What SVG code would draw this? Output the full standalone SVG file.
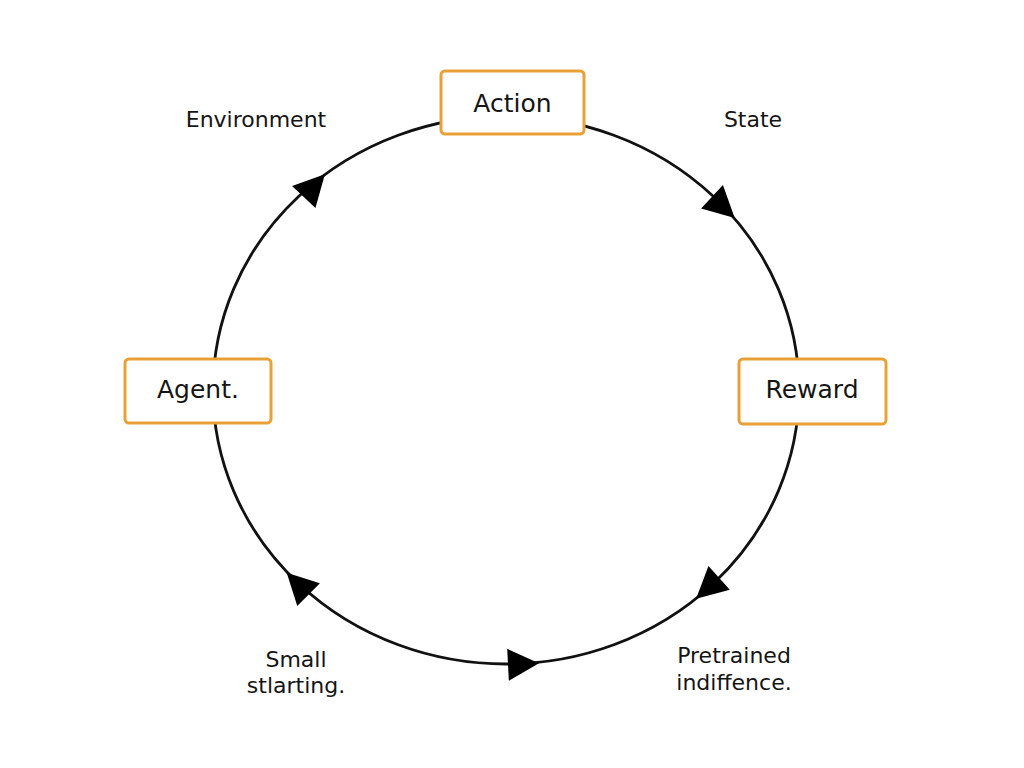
<svg xmlns="http://www.w3.org/2000/svg" xmlns:xlink="http://www.w3.org/1999/xlink" width="1024" height="768" viewBox="0 0 1024 768">
<style>
.box{fill:#fff;stroke:#E9A136;stroke-width:3}
.bt{font-family:"DejaVu Sans",sans-serif;font-size:25px;fill:#151515;text-anchor:middle}
.lbl{font-family:"DejaVu Sans",sans-serif;font-size:22px;fill:#151515;text-anchor:middle}
.ring{fill:none;stroke:#111;stroke-width:2.8}
.head{fill:#000}
</style>
<defs>
<path id="tri" d="M16,0 L-15,-16 L-15,16 Z"/>
</defs>
<rect width="1024" height="768" fill="#fff"/>
<g id="connectors">
<ellipse class="ring" cx="506" cy="390" rx="293" ry="274"/>
<use xlink:href="#tri" class="head" transform="translate(314,186) rotate(-47)"/>
<use xlink:href="#tri" class="head" transform="translate(723,207) rotate(43)"/>
<use xlink:href="#tri" class="head" transform="translate(708,588) rotate(138)"/>
<use xlink:href="#tri" class="head" transform="translate(523,664) rotate(-3)"/>
<use xlink:href="#tri" class="head" transform="translate(298,584) rotate(-135)"/>
</g>
<g id="action">
<rect class="box" x="441" y="71" width="143" height="63" rx="4"/>
<text class="bt" x="512.5" y="112">Action</text>
</g>
<g id="agent">
<rect class="box" x="125" y="359" width="146" height="64" rx="4"/>
<text class="bt" x="198" y="398">Agent.</text>
</g>
<g id="reward">
<rect class="box" x="739" y="359" width="147" height="65" rx="4"/>
<text class="bt" x="812" y="398">Reward</text>
</g>
<g id="labels">
<text class="lbl" x="256" y="127">Environment</text>
<text class="lbl" x="753" y="127">State</text>
<text class="lbl" x="296" y="667">Small</text>
<text class="lbl" x="296" y="693">stlarting.</text>
<text class="lbl" x="734" y="663">Pretrained</text>
<text class="lbl" x="734" y="690">indiffence.</text>
</g>
</svg>
